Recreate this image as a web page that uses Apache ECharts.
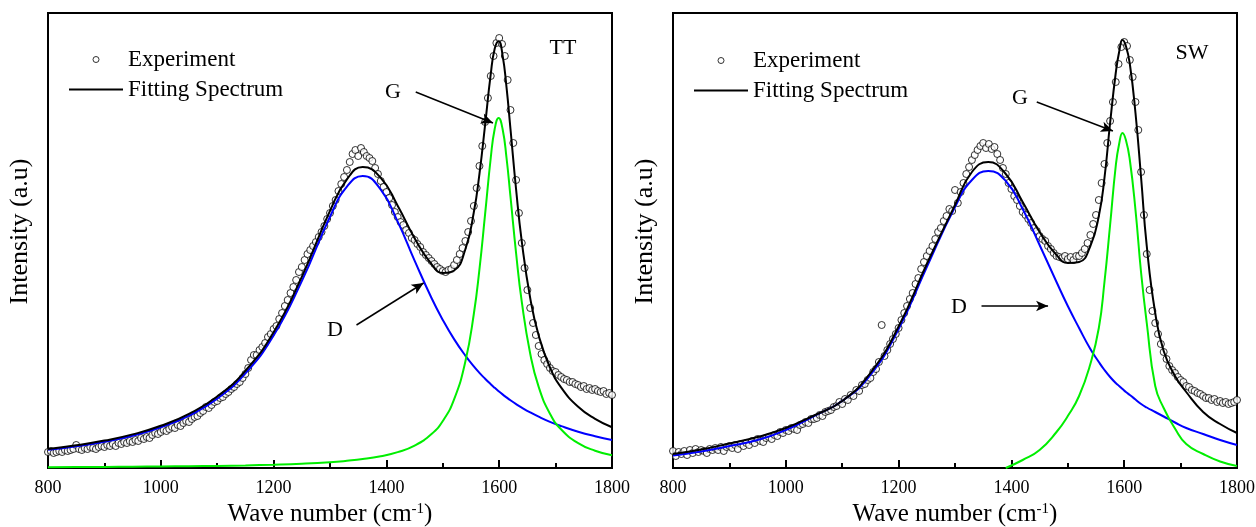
<!DOCTYPE html>
<html><head><meta charset="utf-8">
<script src="https://cdn.jsdelivr.net/npm/echarts@6/dist/echarts.min.js"></script>
<style>html,body{margin:0;padding:0;background:#fff}#c{width:1256px;height:527px}</style>
</head><body><div id="c"></div>
<script>
// ---- sampling grid of the experimental spectrum (cm-1), 5 cm-1 step from 800 to 1800
const expWN = Array.from({length: 201}, (_, i) => 800 + 5 * i);

// ---- TT panel: experimental intensities (a.u.)
const expTT = [16,17,15,16,17,16,18,17,18,19, 23,19,18,20,19,21,20,19,21,22,
  21,23,22,24,22,25,24,26,25,27, 26,28,27,30,29,31,30,33,35,34,
  36,38,37,39,41,40,43,42,45,47, 46,49,51,52,55,57,61,60,63,66,
  67,70,71,74,76,79,81,84,86,90, 94,100,108,113,113,118,121,125,131,134,
  139,142,149,155,162,168,175,181,188,196, 201,208,214,218,222,226,231,236,242,249,
  255,262,268,277,284,291,298,306,314,318, 312,320,316,312,310,307,300,294,287,281,
  276,270,263,256,251,246,243,238,235,230, 228,224,221,216,213,210,207,204,201,199,
  197,196,198,199,203,208,214,220,227,236, 247,262,280,302,322,346,370,392,412,425,
  430,424,412,388,358,325,288,255,225,200, 178,160,145,133,122,114,108,104,100,97,
  96,93,91,89,88,86,86,84,83,81, 82,79,80,78,79,77,76,77,74,75, 73];

// ---- TT panel: fitted curves
const fitWN_TT = [800,850,900,950,1000,1050,1100,1150,1200,1250,1300,1330,1358,1390,1420,1450,1480,1500,1520,1540,1555,1565,1575,1585,1592,1599,1606,1613,1620,1630,1640,1655,1670,1690,1710,1740,1770,1800];
const fitTT = [19.0,22.7,27.4,33.6,42.2,54.2,71.5,97.2,135.8,191.2,257.1,288.6,300.9,290.1,262.3,229.8,203.9,195.1,197.5,218.8,255.7,294.1,343.1,393.8,419.2,426.8,412.6,380.6,339.0,278.4,226.7,169.9,132.4,100.5,80.4,61.2,49.1,40.7];
const bandD_TT = [18.2,21.7,26.3,32.3,40.7,52.4,69.4,94.6,132.5,186.9,251.3,281.4,292,278.3,246.4,207.4,170.0,148.1,128.9,112.4,101.7,95.2,89.3,83.8,80.2,76.8,73.6,70.6,67.7,63.9,60.4,55.6,51.3,46.2,41.9,36.3,31.8,28.0];
const bandG_TT = [0.8,1.0,1.1,1.3,1.5,1.8,2.1,2.6,3.3,4.3,5.8,7.2,8.9,11.8,15.9,22.4,33.9,47.0,68.6,106.4,154.0,198.9,253.8,310.0,339.0,350.0,339.0,310.0,271.3,214.5,166.3,114.3,81.1,54.3,38.5,24.9,17.3,12.7];

// ---- SW panel: experimental intensities (a.u.)
const expSW = [17,12,16,14,17,13,18,15,19,16, 18,17,15,19,18,20,18,21,17,21,
  22,20,23,19,24,22,25,23,27,25, 29,27,26,30,31,29,33,32,36,35,
  38,37,40,39,38,43,44,46,45,49, 49,50,53,52,56,57,58,61,62,66,
  64,69,68,73,72,78,77,83,84,88, 90,96,99,106,143,112,118,124,129,134,
  140,148,155,162,169,175,184,190,199,206, 212,217,222,229,236,240,247,252,259,257,
  278,265,276,285,294,301,308,313,318,322, 325,320,324,319,321,314,308,300,294,285,
  279,272,268,262,256,253,249,245,240,237, 232,229,227,222,219,215,212,211,210,212,
  209,211,208,212,212,215,219,225,233,244, 253,268,285,304,325,347,366,386,404,421,
  426,422,408,391,366,338,296,253,214,178, 157,145,134,124,116,109,102,98,95,91,
  88,86,82,81,78,77,75,74,72,70, 70,68,69,66,67,65,66,64,65,66, 68];

// ---- SW panel: fitted curves
const fitWN_SW = [800,850,900,950,1000,1050,1100,1150,1200,1250,1300,1330,1359,1390,1420,1450,1480,1500,1520,1540,1555,1565,1575,1585,1591,1597,1603,1610,1620,1630,1640,1655,1670,1690,1710,1740,1770,1800];
const fitSW = [14,18.5,24.5,31,40,52.5,67,95,141.5,204,263,296,306,294,266,236,213,205,206,222,252,290,345,395,416,428,422,404,355,290,222,155,117,92,76,56,44,35];
const bandD_SW = [12.5,16.5,22,28,38,52,67,93,139,201,261,288,297,287,259,223,186,162,140,119,106,98,91,85,82,79,76,73,68.5,64,60.5,56,51.5,45.5,40,34,28,23];
const bandG_SW = [null,null,null,null,null,null,null,null,null,null,null,null,null,0,8,18,36,52,72,104,140,186,243,302,324,335,328,308,258,195,145,82,60,39.5,24,14,6.5,2];

// ---- axis ticks
const xMin = 800, xMax = 1800, xStep = 200;

// ---- annotation arrows [from, to] in data coordinates (wave number, intensity)
const arrowsTT = [[[1452, 376], [1589, 345]], [[1347, 143], [1466, 185]]];
const arrowsSW = [[[1445, 366], [1580, 337]], [[1347, 162], [1465, 162]]];

const zip = (xs, ys) => xs.map((x, i) => [x, ys[i]]);
const FONT = 'Liberation Serif';

function xAx(i) {
  return {
    gridIndex: i, type: 'value', min: xMin, max: xMax, interval: xStep,
    axisLine: {show: true, lineStyle: {color: '#000', width: 2}},
    axisTick: {show: true, inside: true, length: 8, lineStyle: {color: '#000', width: 2}},
    minorTick: {show: true, splitNumber: 2, length: 5, lineStyle: {color: '#000', width: 2}},
    axisLabel: {color: '#000', fontSize: 18, fontFamily: FONT, margin: 11, formatter: v => String(v)},
    splitLine: {show: false},
    name: 'Wave number (cm{sup|-1})', nameLocation: 'middle', nameGap: 33,
    nameTextStyle: {color: '#000', fontSize: 25, fontFamily: FONT,
      rich: {sup: {fontSize: 15, fontFamily: FONT, color: '#000', verticalAlign: 'top'}}}
  };
}
function yAx(i) {
  return {
    gridIndex: i, type: 'value', min: 0, max: 455,
    axisLine: {show: true, lineStyle: {color: '#000', width: 2}},
    axisTick: {show: false}, axisLabel: {show: false}, splitLine: {show: false},
    name: 'Intensity (a.u)', nameLocation: 'middle', nameGap: 15,
    nameTextStyle: {color: '#000', fontSize: 26, fontFamily: FONT, padding: [0, 0, 0, 18]}
  };
}
function arrowML(list) {
  return {
    silent: true, symbol: ['none', 'arrow'], symbolSize: [8, 12],
    itemStyle: {color: '#000'},
    lineStyle: {color: '#000', width: 1.5, type: 'solid'}, label: {show: false},
    emphasis: {disabled: true}, animation: false,
    data: list.map(a => [{coord: a[0]}, {coord: a[1]}])
  };
}
function panel(i, exp, fwn, fit, d, g, arrows) {
  const line = (name, data, color, z) => ({
    name, type: 'line', xAxisIndex: i, yAxisIndex: i, data, smooth: 0.5,
    showSymbol: false, symbol: 'none', connectNulls: false, z,
    lineStyle: {color, width: 2}, itemStyle: {color}
  });
  const dl = line('D', zip(fwn, d), '#0000ff', 3);
  dl.markLine = arrowML(arrows);
  return [
    {name: 'Experiment', type: 'scatter', xAxisIndex: i, yAxisIndex: i, data: zip(expWN, exp),
     symbol: 'circle', symbolSize: 7, z: 2,
     itemStyle: {color: '#fff', borderColor: '#000', borderWidth: 1}},
    dl,
    line('G', zip(fwn, g), '#00ee00', 3),
    line('Fitting Spectrum', zip(fwn, fit), '#000', 4)
  ];
}
function legend(left, top) {
  return {left, top, orient: 'vertical', itemWidth: 54, itemHeight: 6, itemGap: 7,
    selectedMode: false,
    data: [
      {name: 'Experiment', itemStyle: {color: '#fff', borderColor: '#000', borderWidth: 1}},
      {name: 'Fitting Spectrum', itemStyle: {color: 'rgba(0,0,0,0)', borderWidth: 0, opacity: 0},
       lineStyle: {color: '#000', width: 2}}
    ],
    textStyle: {color: '#000', fontSize: 23, fontFamily: FONT}};
}
function txt(t, x, y) {
  return {type: 'text', x, y, style: {text: t, fill: '#000', font: '22px "' + FONT + '"', align: 'center', verticalAlign: 'middle'}};
}

const chart = echarts.init(document.getElementById('c'), null, {renderer: 'canvas'});
chart.setOption({
  animation: false,
  backgroundColor: '#fff',
  grid: [
    {left: 48, top: 13, width: 564, height: 455, show: true, borderColor: '#000', borderWidth: 2,
     containLabel: false, outerBoundsMode: 'none'},
    {left: 673, top: 13, width: 564, height: 455, show: true, borderColor: '#000', borderWidth: 2,
     containLabel: false, outerBoundsMode: 'none'}
  ],
  xAxis: [xAx(0), xAx(1)],
  yAxis: [yAx(0), yAx(1)],
  legend: [legend(63, 43), legend(688, 44)],
  series: [
    ...panel(0, expTT, fitWN_TT, fitTT, bandD_TT, bandG_TT, arrowsTT),
    ...panel(1, expSW, fitWN_SW, fitSW, bandD_SW, bandG_SW, arrowsSW)
  ],
  graphic: [
    txt('TT', 563, 48), txt('G', 393, 92), txt('D', 335, 330),
    txt('SW', 1192, 53), txt('G', 1020, 98), txt('D', 959, 307)
  ]
});
</script></body></html>
